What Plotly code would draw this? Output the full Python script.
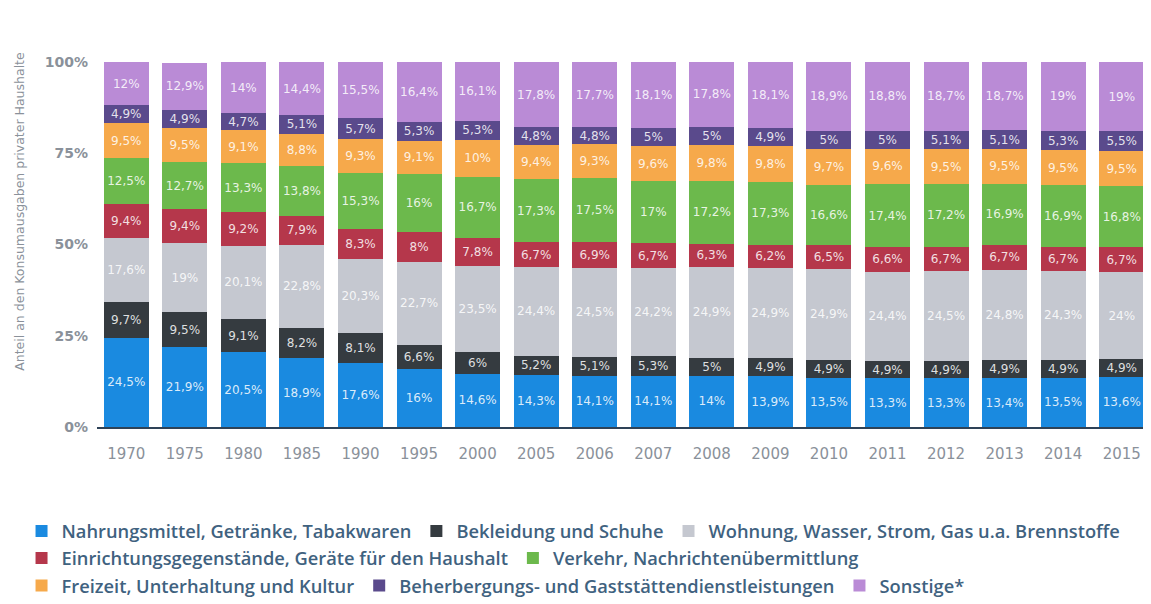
import plotly.graph_objects as go

years = ["1970", "1975", "1980", "1985", "1990", "1995", "2000", "2005", "2006",
         "2007", "2008", "2009", "2010", "2011", "2012", "2013", "2014", "2015"]

nahrung = [24.5, 21.9, 20.5, 18.9, 17.6, 16, 14.6, 14.3, 14.1, 14.1, 14, 13.9, 13.5, 13.3, 13.3, 13.4, 13.5, 13.6]
bekleidung = [9.7, 9.5, 9.1, 8.2, 8.1, 6.6, 6, 5.2, 5.1, 5.3, 5, 4.9, 4.9, 4.9, 4.9, 4.9, 4.9, 4.9]
wohnung = [17.6, 19, 20.1, 22.8, 20.3, 22.7, 23.5, 24.4, 24.5, 24.2, 24.9, 24.9, 24.9, 24.4, 24.5, 24.8, 24.3, 24]
einrichtung = [9.4, 9.4, 9.2, 7.9, 8.3, 8, 7.8, 6.7, 6.9, 6.7, 6.3, 6.2, 6.5, 6.6, 6.7, 6.7, 6.7, 6.7]
verkehr = [12.5, 12.7, 13.3, 13.8, 15.3, 16, 16.7, 17.3, 17.5, 17, 17.2, 17.3, 16.6, 17.4, 17.2, 16.9, 16.9, 16.8]
freizeit = [9.5, 9.5, 9.1, 8.8, 9.3, 9.1, 10, 9.4, 9.3, 9.6, 9.8, 9.8, 9.7, 9.6, 9.5, 9.5, 9.5, 9.5]
beherbergung = [4.9, 4.9, 4.7, 5.1, 5.7, 5.3, 5.3, 4.8, 4.8, 5, 5, 4.9, 5, 5, 5.1, 5.1, 5.3, 5.5]
sonstige = [12, 12.9, 14, 14.4, 15.5, 16.4, 16.1, 17.8, 17.7, 18.1, 17.8, 18.1, 18.9, 18.8, 18.7, 18.7, 19, 19]

series = [
    ("Nahrungsmittel, Getränke, Tabakwaren", nahrung, "#1a8ae0", "legend"),
    ("Bekleidung und Schuhe", bekleidung, "#353b40", "legend"),
    ("Wohnung, Wasser, Strom, Gas u.a. Brennstoffe", wohnung, "#c5c8d0", "legend"),
    ("Einrichtungsgegenstände, Geräte für den Haushalt", einrichtung, "#b5374b", "legend2"),
    ("Verkehr, Nachrichtenübermittlung", verkehr, "#6cb94c", "legend2"),
    ("Freizeit, Unterhaltung und Kultur", freizeit, "#f6a94b", "legend3"),
    ("Beherbergungs- und Gaststättendienstleistungen", beherbergung, "#5a4a8c", "legend3"),
    ("Sonstige*", sonstige, "#ba8bd6", "legend3"),
]


def fmt(v):
    return f"{v:g}".replace(".", ",") + "%"


fig = go.Figure()
for name, vals, color, leg in series:
    fig.add_trace(go.Bar(
        x=years, y=vals, name=name, marker=dict(color=color, line=dict(width=0)),
        text=[fmt(v) for v in vals], textposition="inside", insidetextanchor="middle",
        constraintext="none",
        textangle=0, textfont=dict(color="rgba(255,255,255,0.85)", size=12, family="DejaVu Sans"),
        legend=leg,
    ))

legfont = dict(family="Open Sans", size=18.3, weight=600, color="#3f6280")
legx = -0.0716
legcommon = dict(orientation="h", x=legx, xanchor="left", yanchor="middle",
                 font=legfont, traceorder="normal", bgcolor="rgba(0,0,0,0)")
fig.update_layout(
    barmode="stack",
    bargap=0.23,
    width=1143, height=596,
    margin=dict(l=89, r=0, t=54, b=174),
    plot_bgcolor="white", paper_bgcolor="white",
    xaxis=dict(showline=True, linecolor="#2e4257", linewidth=2, ticks="", ticklabelstandoff=12,
               tickfont=dict(family="DejaVu Sans", size=15, color="#8a919a")),
    yaxis=dict(range=[0, 100], tickvals=[0, 25, 50, 75, 100], ticklabelstandoff=8,
               ticktext=["0%", "25%", "50%", "75%", "100%"], showgrid=False, zeroline=False,
               tickfont=dict(family="DejaVu Sans", size=14, weight="bold", color="#8a919a")),
    legend=dict(y=-0.285, **legcommon),
    legend2=dict(y=-0.359, **legcommon),
    legend3=dict(y=-0.435, **legcommon),
    annotations=[dict(text="Anteil an den Konsumausgaben privater Haushalte", textangle=-90,
                      xref="paper", yref="paper", x=(12 - 89) / 1054, y=(422 - 205) / 368,
                      xanchor="center", yanchor="middle", showarrow=False,
                      font=dict(family="DejaVu Sans", size=12.5, color="#8a919a"))],
)

fig.write_html("out.html")
